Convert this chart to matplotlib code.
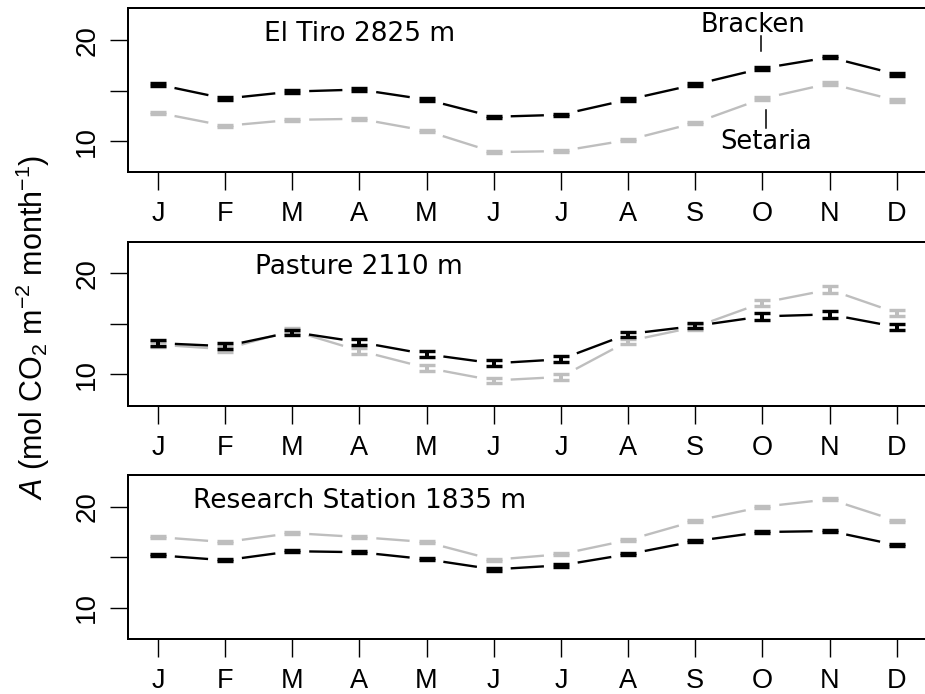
import matplotlib
matplotlib.use("Agg")
import matplotlib.pyplot as plt
import numpy as np

months = ['J', 'F', 'M', 'A', 'M', 'J', 'J', 'A', 'S', 'O', 'N', 'D']
x_pos = list(range(1, 13))

sites = ['El Tiro 2825 m', 'Pasture 2110 m', 'Research Station 1835 m']

eltiro_bracken = [15.6, 14.2, 14.9, 15.1, 14.1, 12.4, 12.6, 14.1, 15.6, 17.2, 18.3, 16.6]
eltiro_setaria = [12.8, 11.5, 12.1, 12.2, 11.0, 8.9, 9.0, 10.1, 11.8, 14.2, 15.7, 14.0]
eltiro_bracken_se = [0.12, 0.12, 0.12, 0.12, 0.12, 0.12, 0.12, 0.12, 0.12, 0.12, 0.12, 0.12]
eltiro_setaria_se = [0.12, 0.12, 0.12, 0.12, 0.12, 0.12, 0.12, 0.12, 0.12, 0.12, 0.12, 0.12]

pasture_bracken = [13.1, 12.8, 14.2, 13.2, 12.0, 11.1, 11.5, 14.0, 14.8, 15.75, 15.95, 14.7]
pasture_setaria = [12.95, 12.5, 14.35, 12.35, 10.65, 9.4, 9.75, 13.3, 14.7, 17.1, 18.4, 16.1]
pasture_bracken_se = [0.28, 0.28, 0.25, 0.32, 0.28, 0.28, 0.28, 0.25, 0.25, 0.32, 0.32, 0.28]
pasture_setaria_se = [0.28, 0.28, 0.28, 0.28, 0.28, 0.28, 0.28, 0.25, 0.25, 0.32, 0.32, 0.28]

station_bracken = [15.2, 14.7, 15.6, 15.5, 14.8, 13.8, 14.2, 15.3, 16.6, 17.5, 17.6, 16.2]
station_setaria = [17.0, 16.5, 17.4, 17.0, 16.5, 14.75, 15.3, 16.7, 18.6, 20.0, 20.75, 18.6]
station_bracken_se = [0.12, 0.12, 0.12, 0.12, 0.12, 0.12, 0.12, 0.12, 0.12, 0.12, 0.12, 0.12]
station_setaria_se = [0.12, 0.12, 0.12, 0.12, 0.12, 0.12, 0.12, 0.12, 0.12, 0.12, 0.12, 0.12]

bracken_series = [eltiro_bracken, pasture_bracken, station_bracken]
setaria_series = [eltiro_setaria, pasture_setaria, station_setaria]
bracken_errs = [eltiro_bracken_se, pasture_bracken_se, station_bracken_se]
setaria_errs = [eltiro_setaria_se, pasture_setaria_se, station_setaria_se]

yticks = [10, 15, 20]
ytick_labels = ['10', '', '20']

BLACK = '#000000'
GREY = '#BEBEBE'

plt.rcParams['font.family'] = ['Liberation Sans', 'DejaVu Sans']
plt.rcParams['mathtext.fontset'] = 'custom'
plt.rcParams['mathtext.rm'] = 'Liberation Sans'
plt.rcParams['mathtext.it'] = 'Liberation Sans:italic'

W, H = 925, 694
fig = plt.figure(figsize=(W / 100, H / 100), dpi=100)

px = 72 / 100  # points per pixel
GAP = 17.0      # gap in pixels between point centre and line end
left = 128.3 / W
width = 798 / W
bottoms_px = [172.3, 405.7, 639.0]
height = 164 / H

for i in range(3):
    ax = fig.add_axes([left, 1 - bottoms_px[i] / H, width, height])
    ax.set_xlim(0.56, 12.44)
    ax.set_ylim(6.9, 23.15)

    series = [(setaria_series[i], setaria_errs[i], GREY),
              (bracken_series[i], bracken_errs[i], BLACK)]
    # connecting lines with gaps around points (R type='b'),
    # shortened in display space via the axes transform
    inv = ax.transData.inverted()
    for vals, errs, col in series:
        pts = ax.transData.transform(np.column_stack([x_pos, vals]))
        for k in range(len(pts) - 1):
            p0, p1 = pts[k], pts[k + 1]
            d = p1 - p0
            L = np.hypot(*d)
            if L <= 2 * GAP:
                continue
            u = d / L
            seg = inv.transform(np.vstack([p0 + u * GAP, p1 - u * GAP]))
            ax.plot(seg[:, 0], seg[:, 1], color=col, lw=1.7, zorder=2,
                    solid_capstyle='butt')
    # error bars
    for vals, errs, col in series:
        ax.errorbar(x_pos, vals, yerr=errs, fmt='none', ecolor=col,
                    elinewidth=4.0 * px, capsize=8.0 * px, capthick=3.4 * px,
                    zorder=3)

    ax.set_xticks(x_pos)
    ax.set_xticklabels(months, fontsize=19.5, fontfamily='Liberation Sans')
    ax.set_yticks(yticks)
    ax.set_yticklabels(ytick_labels, fontsize=20, fontfamily='Liberation Sans',
                       rotation=90, va='center')
    ax.tick_params(axis='both', direction='out', length=18 * px, width=1.4 * px,
                   color='black')
    ax.tick_params(axis='x', pad=11 * px)
    ax.tick_params(axis='y', pad=10 * px)
    for s in ['left', 'top', 'bottom']:
        ax.spines[s].set_linewidth(2.0 * px)
    ax.spines['right'].set_visible(False)

    ax.text(4.0, 20.62, sites[i], ha='center', va='center', fontsize=19,
            family='DejaVu Sans', zorder=5)

    if i == 0:
        ax.text(9.86, 20.8, 'Bracken', ha='center', va='baseline', fontsize=18.5,
                family='DejaVu Sans', zorder=5)
        ax.plot([9.98, 9.98], [20.4, 18.95], color='black', lw=1.1, zorder=5)
        ax.text(10.06, 9.2, 'Setaria', ha='center', va='baseline', fontsize=18.5,
                family='DejaVu Sans', zorder=5)
        ax.plot([10.06, 10.06], [13.05, 11.3], color='black', lw=1.1, zorder=5)

fig.text(33 / W, 1 - 327 / H,
         r'$\mathit{A}$ (mol CO$_2$ m$^{-2}$ month$^{-1}$)',
         rotation=90, ha='center', va='center', fontsize=22,
         family='Liberation Sans')

fig.savefig('out.png', dpi=100)
